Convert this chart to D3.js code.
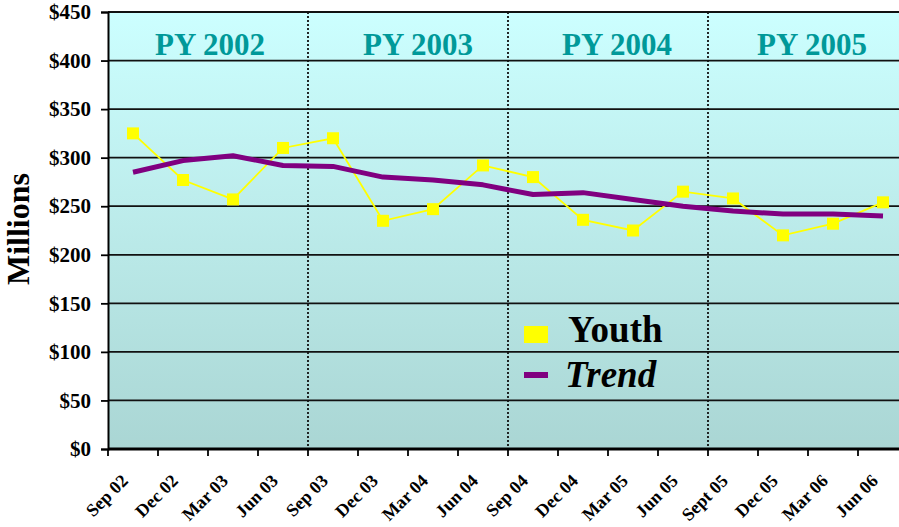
<!DOCTYPE html>
<html><head><meta charset="utf-8">
<script src="https://cdn.jsdelivr.net/npm/d3@7"></script>
<style>html,body{margin:0;padding:0;background:#fff;overflow:hidden}</style>
</head><body>
<svg id="c" width="899" height="527"></svg>
<script>
const categories = ["Sep 02","Dec 02","Mar 03","Jun 03","Sep 03","Dec 03","Mar 04","Jun 04","Sep 04","Dec 04","Mar 05","Jun 05","Sept 05","Dec 05","Mar 06","Jun 06"];
const youth = [325, 277, 257, 310, 320, 235, 247, 292, 280, 236, 225, 265, 258, 220, 232, 254];
const trend = [285, 297, 302, 292, 291, 280, 277, 272, 262, 264, 257, 250, 245, 242, 242, 240];
const yTicks = [0, 50, 100, 150, 200, 250, 300, 350, 400, 450];
const programYears = ["PY 2002", "PY 2003", "PY 2004", "PY 2005"];
const seriesNames = ["Youth", "Trend"];

const FONT = "'Liberation Serif', 'Times New Roman', serif";
const svg = d3.select("#c");
const m = {l:108, t:12, r:-9, b:78};
const W = 899, H = 527;
const x = d3.scaleBand().domain(categories).range([m.l, W - m.r]).paddingInner(0).paddingOuter(0);
const y = d3.scaleLinear().domain([0, 450]).range([H - m.b, m.t]);
const bw = x.bandwidth();
const cx = d => x(d) + bw/2;

const defs = svg.append("defs");
const g = defs.append("linearGradient").attr("id","bg").attr("x1",0).attr("y1",0).attr("x2",0).attr("y2",1);
g.append("stop").attr("offset","0%").attr("stop-color","#ccffff");
g.append("stop").attr("offset","100%").attr("stop-color","#aad6d4");

svg.append("rect").attr("x", m.l).attr("y", y(450)).attr("width", W - m.r - m.l).attr("height", y(0) - y(450)).attr("fill","url(#bg)");

// gridlines
svg.append("g").selectAll("line").data(yTicks.filter(d=>d>0)).join("line")
  .attr("x1", m.l).attr("x2", W - m.r).attr("y1", d=>y(d)).attr("y2", d=>y(d))
  .attr("stroke", "#111").attr("stroke-width", 1.8);

// year separators
const seps = [categories[4], categories[8], categories[12]];
svg.append("g").selectAll("line").data(seps).join("line")
  .attr("x1", d=>x(d)).attr("x2", d=>x(d)).attr("y1", y(450)).attr("y2", y(0))
  .attr("stroke", "#111").attr("stroke-width", 1.8).attr("stroke-dasharray","2,2");

// PY labels
const pyOffsets = [2, 10, 9, 4];
svg.append("g").selectAll("text").data(programYears).join("text")
  .attr("x", (d,i)=> x(categories[i*4]) + 2*bw + pyOffsets[i])
  .attr("y", 55).attr("text-anchor","middle")
  .attr("font-family",FONT).attr("font-weight","bold")
  .attr("font-size", 31).attr("fill","#009999").text(d=>d);

// y axis
const yAxis = svg.append("g").attr("transform", `translate(${m.l},0)`)
  .call(d3.axisLeft(y).tickValues(yTicks).tickSize(7).tickPadding(10).tickFormat(d=>"$"+d));
yAxis.select(".domain").attr("stroke","#000").attr("stroke-width",2);
yAxis.selectAll(".tick line").attr("stroke","#000").attr("stroke-width",1.8);
yAxis.selectAll(".tick text").attr("font-family",FONT)
  .attr("font-weight","bold").attr("font-size",21).attr("fill","#000");

// x axis
const xAxis = svg.append("g").attr("transform", `translate(0,${y(0)})`);
xAxis.append("line").attr("x1", m.l).attr("x2", W - m.r).attr("y1",0).attr("y2",0).attr("stroke","#000").attr("stroke-width",3);
xAxis.selectAll("line.tk").data(categories).join("line").attr("class","tk")
  .attr("x1", d=>x(d)).attr("x2", d=>x(d)).attr("y1",0).attr("y2",7).attr("stroke","#000").attr("stroke-width",1.8);
xAxis.selectAll("text").data(categories).join("text")
  .attr("transform", d=>`translate(${cx(d)-4},${33}) rotate(-45)`)
  .attr("text-anchor","end")
  .attr("font-family",FONT).attr("font-weight","bold")
  .attr("font-size",18).attr("fill","#000").text(d=>d);

// y title
svg.append("text").attr("transform", `translate(29,${229}) rotate(-90)`).attr("text-anchor","middle")
  .attr("font-family",FONT).attr("font-weight","bold")
  .attr("font-size",32).attr("fill","#000").text("Millions");

// lines
const line = d3.line().x((d,i)=>cx(categories[i])).y(d=>y(d));
svg.append("path").datum(youth).attr("d", line).attr("fill","none").attr("stroke","#ffff00").attr("stroke-width",1.8);
svg.append("path").datum(trend).attr("d", line).attr("fill","none").attr("stroke","#800080").attr("stroke-width",5).attr("stroke-linejoin","round");
svg.append("g").selectAll("rect").data(youth).join("rect")
  .attr("x", (d,i)=>cx(categories[i]) - 6).attr("y", d=>y(d) - 6).attr("width",12).attr("height",12)
  .attr("fill","#ffff00");

// legend
const lg = svg.append("g");
lg.append("rect").attr("x",524).attr("y",326).attr("width",24).attr("height",17).attr("fill","#ffff00");
lg.append("rect").attr("x",524).attr("y",372).attr("width",24).attr("height",6).attr("fill","#800080");
lg.append("text").attr("x",568).attr("y",342).attr("font-family",FONT)
  .attr("font-weight","bold").attr("font-size",37).attr("fill","#000").text(seriesNames[0]);
lg.append("text").attr("x",565).attr("y",387).attr("font-family",FONT)
  .attr("font-weight","bold").attr("font-style","italic").attr("font-size",37).attr("fill","#000").text(seriesNames[1]);
</script>
</body></html>
